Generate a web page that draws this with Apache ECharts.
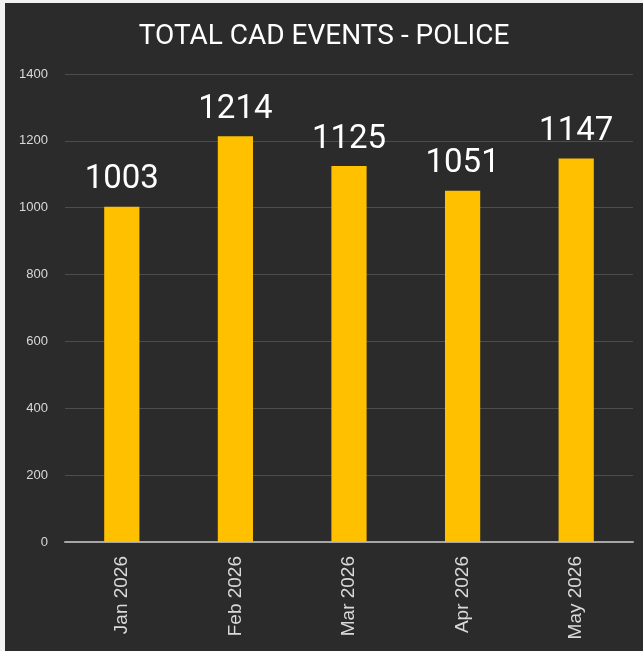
<!DOCTYPE html>
<html>
<head>
<meta charset="UTF-8" />
<title>Total CAD Events - Police</title>
<script src="https://cdn.jsdelivr.net/npm/echarts@6/dist/echarts.min.js"></script>
<style>
  html, body { margin:0; padding:0; width:100%; height:100%; overflow:hidden; background:#f2f2f2; }
  #chart { position:absolute; left:5px; top:3px; right:0; bottom:0; background:#2b2b2b; }
</style>
</head>
<body>
<div id="chart"></div>
<script>
const months = ['Jan 2026','Feb 2026','Mar 2026','Apr 2026','May 2026'];
const events = [1003, 1214, 1125, 1051, 1147];
const yTicks = { min:0, max:1400, interval:200 };

const chart = echarts.init(document.getElementById('chart'));
chart.setOption({
  backgroundColor:'#2b2b2b',
  title:{
    text:'TOTAL CAD EVENTS - POLICE', left:'center', top:15,
    textStyle:{ color:'#ffffff', fontSize:28, fontWeight:'normal', fontFamily:'Roboto' }
  },
  grid:{ left:60, right:10, top:71, bottom:109 },
  xAxis:{
    type:'category', data:months,
    axisLine:{ lineStyle:{ color:'#a6a6a6', width:2 } },
    axisTick:{ show:false },
    axisLabel:{ rotate:90, color:'#d9d9d9', fontSize:19, fontFamily:'Liberation Sans', margin:14 }
  },
  yAxis:{
    type:'value', min:yTicks.min, max:yTicks.max, interval:yTicks.interval,
    axisLine:{ show:false }, axisTick:{ show:false },
    splitLine:{ lineStyle:{ color:'#4d4d4d', width:1 } },
    axisLabel:{ color:'#d9d9d9', fontSize:13, fontFamily:'Liberation Sans', margin:17,
      formatter:v=>String(v) }
  },
  series:[{
    type:'bar', data:events, barWidth:'31%',
    itemStyle:{ color:'#ffc000' },
    label:{ show:true, position:'top', color:'#ffffff', fontSize:33, fontFamily:'Roboto', distance:10 }
  }]
});
</script>
</body>
</html>
